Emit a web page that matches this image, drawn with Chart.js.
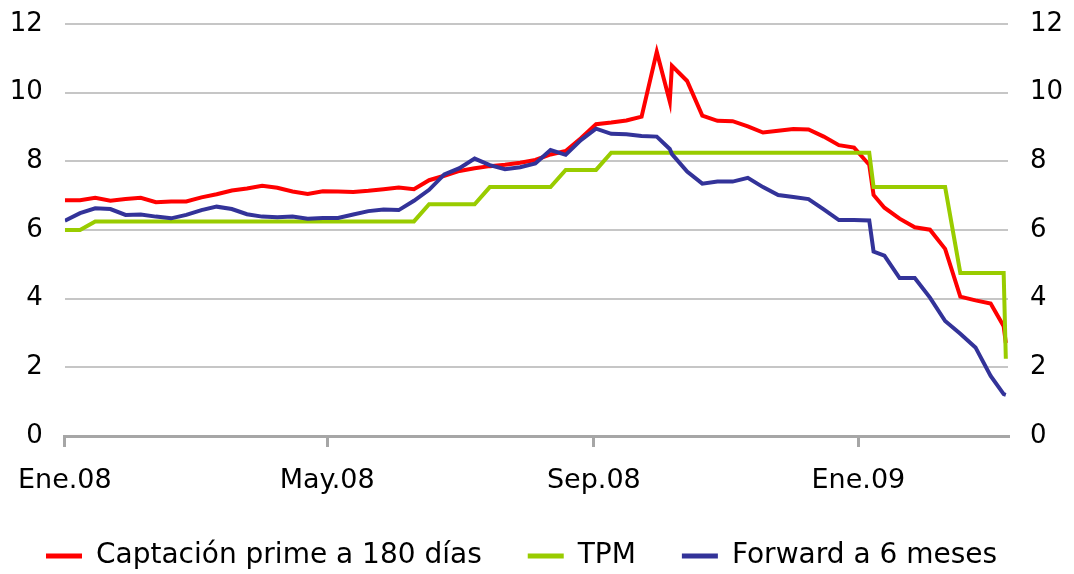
<!DOCTYPE html>
<html>
<head>
<meta charset="utf-8">
<script src="https://cdn.jsdelivr.net/npm/chart.js@4"></script>
<style>
  html, body { margin: 0; padding: 0; background: #fff; }
  #wrap { width: 1074px; height: 574px; }
</style>
</head>
<body>
<div id="wrap"><canvas id="chart"></canvas></div>
<script>
// ==== Data: days counted from 1 Jan 2008 (mostly weekly) ====
const dias = [
  0, 7, 14, 21, 28, 35, 42, 49, 56, 63, 70, 77, 84, 91, 98, 105, 112, 119, 126, 133,
  140, 147, 154, 161, 168, 175, 182, 189, 196, 203, 210, 217, 224, 231, 238, 245, 252, 259, 266, 273,
  279,
  280, 287, 294, 301, 308, 315, 322, 329, 336, 343, 350, 357, 364, 371,
  373,
  378, 385, 392, 399, 406, 413, 420, 427,
  433, 434
];

const captacion = [
  6.87, 6.87, 6.94, 6.85, 6.90, 6.94, 6.81, 6.83, 6.83, 6.95, 7.04, 7.15, 7.21, 7.29, 7.23, 7.12, 7.05, 7.13, 7.12, 7.11,
  7.14, 7.19, 7.24, 7.19, 7.45, 7.58, 7.72, 7.80, 7.86, 7.90, 7.96, 8.04, 8.20, 8.30, 8.67, 9.08, 9.13, 9.19, 9.30, 11.19,
  9.74,
  10.78, 10.34, 9.33, 9.18, 9.17, 9.02, 8.84, 8.89, 8.94, 8.93, 8.72, 8.47, 8.40, 7.90,
  7.02,
  6.65, 6.33, 6.08, 6.01, 5.45, 4.06, 3.95, 3.86,
  3.20, 2.71
];

const tpm = [
  6.00, 6.00, 6.25, 6.25, 6.25, 6.25, 6.25, 6.25, 6.25, 6.25, 6.25, 6.25, 6.25, 6.25, 6.25, 6.25, 6.25, 6.25, 6.25, 6.25,
  6.25, 6.25, 6.25, 6.25, 6.75, 6.75, 6.75, 6.75, 7.25, 7.25, 7.25, 7.25, 7.25, 7.75, 7.75, 7.75, 8.25, 8.25, 8.25, 8.25,
  8.25,
  8.25, 8.25, 8.25, 8.25, 8.25, 8.25, 8.25, 8.25, 8.25, 8.25, 8.25, 8.25, 8.25, 8.25,
  7.25,
  7.25, 7.25, 7.25, 7.25, 7.25, 4.75, 4.75, 4.75,
  4.75, 2.25
];

const forward = [
  6.27, 6.49, 6.63, 6.61, 6.44, 6.45, 6.39, 6.34, 6.44, 6.58, 6.68, 6.61, 6.46, 6.39, 6.37, 6.39, 6.33, 6.35, 6.35, 6.45,
  6.55, 6.60, 6.58, 6.85, 7.17, 7.62, 7.80, 8.08, 7.89, 7.77, 7.83, 7.94, 8.33, 8.19, 8.62, 8.95, 8.80, 8.79, 8.74, 8.72,
  8.36,
  8.21, 7.70, 7.35, 7.41, 7.41, 7.52, 7.25, 7.02, 6.96, 6.90, 6.60, 6.29, 6.29, 6.28,
  5.37,
  5.25, 4.60, 4.60, 4.03, 3.35, 2.98, 2.58, 1.75,
  1.22, 1.20
];

const tickDias = [0, 121, 244, 366];
const tickEtiquetas = ['Ene.08', 'May.08', 'Sep.08', 'Ene.09'];

// ==== Chart ====
const FAMILY = "'DejaVu Sans', Verdana, sans-serif";

function toPoints(serie) {
  return dias.map((d, i) => ({ x: d, y: serie[i] }));
}

function lineDataset(label, serie, color, order) {
  return {
    label: label,
    data: toPoints(serie),
    borderColor: color,
    backgroundColor: color,
    borderWidth: 4,
    pointRadius: 0,
    tension: 0,
    order: order
  };
}

// y axes: fixed width, no label overflow padding so the plot top stays at the layout padding
const yAxis = (position, pad, width) => ({
  position: position,
  min: 0,
  max: 12,
  ticks: { stepSize: 2, color: '#000', font: { family: FAMILY, size: 26 }, padding: pad },
  grid: {
    display: position === 'left',
    drawOnChartArea: position === 'left',
    drawTicks: false,
    color: '#c6c6c6',
    lineWidth: 2
  },
  border: { display: false },
  afterFit: (axis) => {
    axis.width = width;
    axis.paddingTop = 0;
    axis.paddingBottom = 0;
  }
});

new Chart(document.getElementById('chart'), {
  type: 'line',
  data: {
    datasets: [
      lineDataset('Captación prime a 180 días', captacion, '#ff0000', 3),
      lineDataset('TPM', tpm, '#99cc00', 2),
      lineDataset('Forward a 6 meses', forward, '#333399', 1)
    ]
  },
  options: {
    responsive: true,
    maintainAspectRatio: false,
    animation: false,
    layout: { padding: { top: 24, bottom: -6, left: 0, right: 0 } },
    plugins: {
      tooltip: { enabled: false },
      legend: {
        position: 'bottom',
        align: 'start',
        labels: {
          font: { family: FAMILY, size: 28 },
          color: '#000',
          boxWidth: 36,
          boxHeight: 5,
          padding: 46,
          sort: (a, b) => a.datasetIndex - b.datasetIndex,
          generateLabels(chart) {
            const items = Chart.defaults.plugins.legend.labels.generateLabels(chart);
            items.forEach(it => { it.lineWidth = 0; it.fillStyle = it.strokeStyle; });
            return items;
          }
        }
      }
    },
    scales: {
      x: {
        type: 'linear',
        min: 0,
        max: 435,
        afterBuildTicks: (axis) => { axis.ticks = tickDias.map(v => ({ value: v })); },
        afterFit: (axis) => { axis.height = 60; },
        ticks: {
          autoSkip: false,
          maxRotation: 0,
          color: '#000',
          font: { family: FAMILY, size: 27 },
          padding: 18,
          callback: (v) => tickEtiquetas[tickDias.indexOf(v)]
        },
        grid: {
          drawOnChartArea: false,
          drawTicks: true,
          tickLength: 11,
          color: '#a6a6a6',
          lineWidth: 3
        },
        border: { display: true, color: '#a6a6a6', width: 3 }
      },
      y: yAxis('left', 22, 61),
      y2: yAxis('right', 22, 66)
    }
  }
});
</script>
</body>
</html>
